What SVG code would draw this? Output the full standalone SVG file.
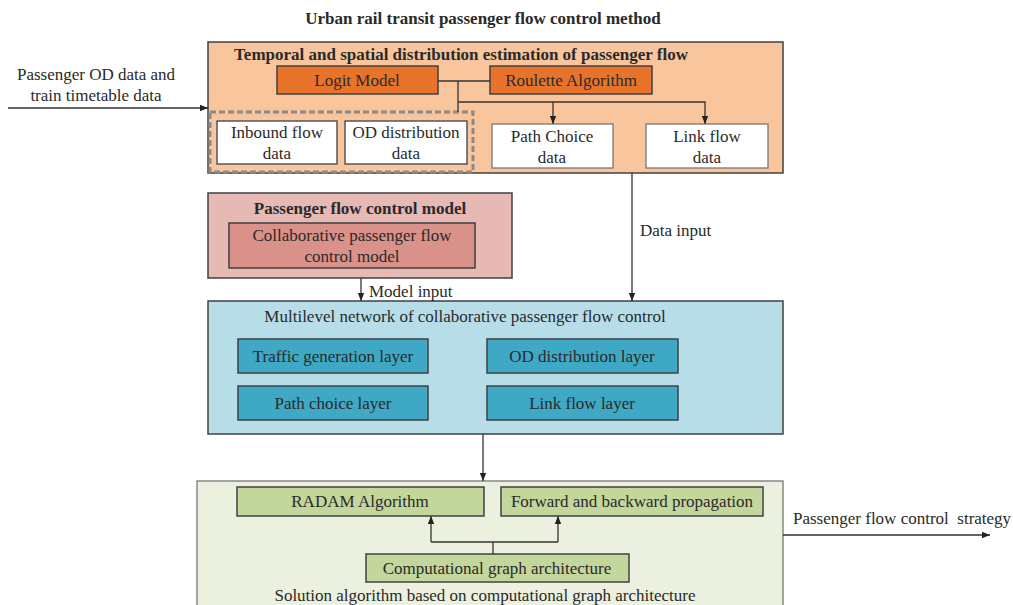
<svg xmlns="http://www.w3.org/2000/svg" width="1013" height="605" viewBox="0 0 1013 605">
<style>
text{font-family:"Liberation Serif","Times New Roman",serif;font-size:17px;fill:#2a2a2a;}
.b{font-weight:bold;}
.m{text-anchor:middle;}
.box{stroke:#404040;stroke-width:1.5;}
.ln{stroke:#333;stroke-width:1.3;fill:none;}
</style>
<defs>
<marker id="ah" viewBox="0 0 10 10" refX="10" refY="5" markerWidth="8" markerHeight="8" markerUnits="userSpaceOnUse" orient="auto">
<path d="M0,1 L10,5 L0,9 Z" fill="#222"/>
</marker>
</defs>
<rect width="1013" height="605" fill="#fff"/>
<text class="b m" x="483" y="24">Urban rail transit passenger flow control method</text>

<g id="estimation">
<rect class="box" x="208" y="42" width="575" height="131" fill="#f9c59c"/>
<text class="b m" x="461" y="60">Temporal and spatial distribution estimation of passenger flow</text>
</g>
<g id="logit">
<rect class="box" x="277" y="66" width="161" height="28" fill="#e8732b"/>
<text class="m" x="357" y="86">Logit Model</text>
</g>
<g id="roulette">
<rect class="box" x="490" y="66" width="162" height="28" fill="#e8732b"/>
<text class="m" x="571" y="86">Roulette Algorithm</text>
</g>
<g id="dashed-group">
<rect x="210" y="112" width="263" height="60" fill="#f9c59c" stroke="#8a8a8a" stroke-width="3" stroke-dasharray="6,3"/>
</g>
<g id="inbound">
<rect x="217" y="121" width="120" height="43" fill="#fff" stroke="#555" stroke-width="1.5"/>
<text class="m" x="277" y="138">Inbound flow</text>
<text class="m" x="277" y="159">data</text>
</g>
<g id="od-data">
<rect x="345" y="121" width="122" height="43" fill="#fff" stroke="#555" stroke-width="1.5"/>
<text class="m" x="406" y="138">OD distribution</text>
<text class="m" x="406" y="159">data</text>
</g>
<g id="path-choice">
<rect x="492" y="124" width="121" height="44" fill="#fff" stroke="#777" stroke-width="1.3"/>
<text class="m" x="552" y="142">Path Choice</text>
<text class="m" x="552" y="163">data</text>
</g>
<g id="link-flow">
<rect x="646" y="124" width="122" height="44" fill="#fff" stroke="#777" stroke-width="1.3"/>
<text class="m" x="707" y="142">Link flow</text>
<text class="m" x="707" y="163">data</text>
</g>

<g id="control-model">
<rect class="box" x="208" y="193" width="304" height="85" fill="#e6b9b5"/>
<text class="b m" x="360" y="214">Passenger flow control model</text>
</g>
<g id="collab-model">
<rect class="box" x="229" y="223" width="246" height="45" fill="#d99189"/>
<text class="m" x="352" y="241">Collaborative passenger flow</text>
<text class="m" x="352" y="262">control model</text>
</g>

<g id="multilevel">
<rect class="box" x="208" y="301" width="575" height="133" fill="#b7dde9"/>
<text class="m" x="465" y="322">Multilevel network of collaborative passenger flow control</text>
</g>
<g id="traffic-layer">
<rect class="box" x="238" y="339" width="190" height="34" fill="#3fa8c4"/>
<text class="m" x="333" y="362">Traffic generation layer</text>
</g>
<g id="od-layer">
<rect class="box" x="487" y="339" width="191" height="34" fill="#3fa8c4"/>
<text class="m" x="582" y="362">OD distribution layer</text>
</g>
<g id="path-layer">
<rect class="box" x="238" y="386" width="190" height="34" fill="#3fa8c4"/>
<text class="m" x="333" y="409">Path choice layer</text>
</g>
<g id="link-layer">
<rect class="box" x="487" y="386" width="191" height="34" fill="#3fa8c4"/>
<text class="m" x="582" y="409">Link flow layer</text>
</g>

<g id="solution">
<rect x="197" y="481" width="586" height="140" fill="#ebf1de" stroke="#777" stroke-width="1.3"/>
<text class="m" x="485" y="601">Solution algorithm based on computational graph architecture</text>
</g>
<g id="radam">
<rect class="box" x="237" y="487" width="247" height="29" fill="#c3d69b"/>
<text class="m" x="360" y="507">RADAM Algorithm</text>
</g>
<g id="forward">
<rect class="box" x="501" y="487" width="262" height="29" fill="#c3d69b"/>
<text class="m" x="632" y="507">Forward and backward propagation</text>
</g>
<g id="compgraph">
<rect class="box" x="366" y="554" width="263" height="28" fill="#c3d69b"/>
<text class="m" x="497" y="574">Computational graph architecture</text>
</g>

<g id="connectors">
<line class="ln" x1="8" y1="108" x2="208" y2="108" marker-end="url(#ah)"/>
<text class="m" x="96" y="80">Passenger OD data and</text>
<text class="m" x="96" y="101">train timetable data</text>
<line class="ln" x1="438" y1="81" x2="490" y2="81"/>
<line class="ln" x1="458" y1="81" x2="458" y2="112"/>
<polyline class="ln" points="458,102 705,102 705,124" marker-end="url(#ah)"/>
<line class="ln" x1="553" y1="102" x2="553" y2="124" marker-end="url(#ah)"/>
<line class="ln" x1="632" y1="173" x2="632" y2="301" marker-end="url(#ah)"/>
<text x="640" y="236">Data input</text>
<line class="ln" x1="361" y1="278" x2="361" y2="301" marker-end="url(#ah)"/>
<text x="369" y="297">Model input</text>
<line class="ln" x1="483" y1="434" x2="483" y2="481" marker-end="url(#ah)"/>
<line class="ln" x1="493" y1="554" x2="493" y2="542"/>
<polyline class="ln" points="431,542 431,516" marker-end="url(#ah)"/>
<line class="ln" x1="431" y1="542" x2="558" y2="542"/>
<line class="ln" x1="558" y1="542" x2="558" y2="516" marker-end="url(#ah)"/>
<line class="ln" x1="783" y1="535" x2="990" y2="535" marker-end="url(#ah)"/>
<text x="793" y="524">Passenger flow control&#160; strategy</text>
</g>
</svg>
